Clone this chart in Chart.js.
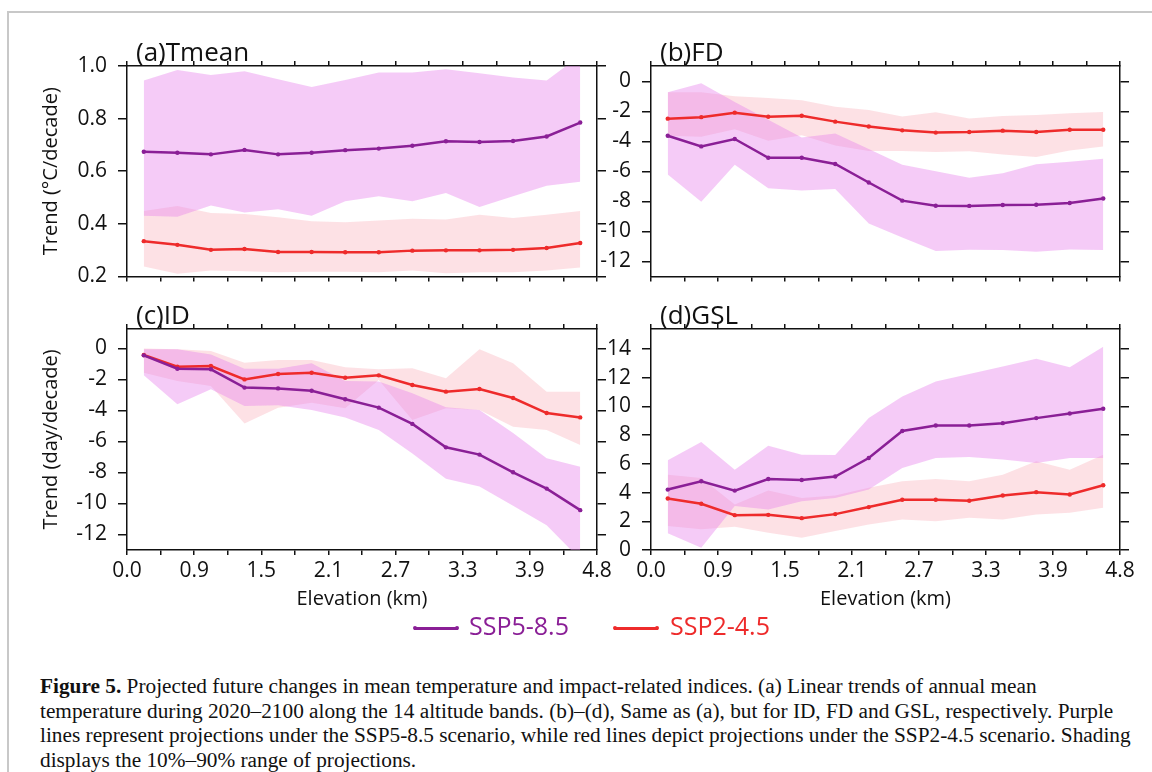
<!DOCTYPE html>
<html>
<head>
<meta charset="utf-8">
<script src="https://cdn.jsdelivr.net/npm/chart.js@4.4.1/dist/chart.umd.min.js"></script>
<style>
  body { margin: 0; width: 1152px; height: 772px; background: #fff; position: relative; overflow: hidden; font-family: "Open Sans", sans-serif; }
  .frame { position: absolute; left: 7px; top: 11px; right: -5px; bottom: -5px; border-left: 2px solid #c8c8c8; border-top: 2px solid #c8c8c8; }
  canvas { position: absolute; }
  .leg { position: absolute; font-size: 25px; line-height: 30px; white-space: nowrap; }
  .mark { position: absolute; height: 2.5px; width: 44px; }
  .mark::before, .mark::after { content: ""; position: absolute; top: -1px; width: 4px; height: 4px; border-radius: 2px; background: inherit; }
  .mark::before { left: -1px; }
  .mark::after { right: -1px; }
  #caption { position: absolute; left: 40px; top: 674px; font-family: "Liberation Serif", serif; font-size: 21.3px; line-height: 24.5px; color: #111; white-space: nowrap; }
</style>
</head>
<body>
<div class="frame"></div>
<canvas id="pa" width="590" height="270" style="left:30px; top:30px;"></canvas>
<canvas id="pb" width="562" height="270" style="left:590px; top:30px;"></canvas>
<canvas id="pc" width="590" height="311" style="left:30px; top:300px;"></canvas>
<canvas id="pd" width="562" height="311" style="left:590px; top:300px;"></canvas>

<div class="mark" style="left:414px; top:627px; background:#8a1f96;"></div>
<div class="leg" style="left:469px; top:610px; color:#8a1f96;">SSP5-8.5</div>
<div class="mark" style="left:614px; top:627px; background:#ee2b2b;"></div>
<div class="leg" style="left:670px; top:610px; color:#ee2b2b;">SSP2-4.5</div>

<div id="caption"><b>Figure 5.</b> Projected future changes in mean temperature and impact-related indices. (a) Linear trends of annual mean<br>temperature during 2020–2100 along the 14 altitude bands. (b)–(d), Same as (a), but for ID, FD and GSL, respectively. Purple<br>lines represent projections under the SSP5-8.5 scenario, while red lines depict projections under the SSP2-4.5 scenario. Shading<br>displays the 10%–90% range of projections.</div>

<script>
// x axis: 14 altitude bands, labels every second band edge
const xTickLabels = ['0.0', '0.9', '1.5', '2.1', '2.7', '3.3', '3.9', '4.8'];

// (a) Tmean, °C/decade
const tmean585   = [0.674, 0.670, 0.664, 0.681, 0.664, 0.670, 0.680, 0.686, 0.697, 0.714, 0.711, 0.715, 0.732, 0.785];
const tmean585Hi = [0.945, 0.985, 0.966, 0.980, 0.950, 0.920, 0.947, 0.975, 0.975, 0.988, 0.972, 0.956, 0.945, 1.040];
const tmean585Lo = [0.431, 0.427, 0.470, 0.443, 0.455, 0.431, 0.486, 0.505, 0.486, 0.517, 0.464, 0.505, 0.545, 0.560];
const tmean245   = [0.334, 0.320, 0.301, 0.304, 0.293, 0.293, 0.292, 0.292, 0.298, 0.299, 0.299, 0.301, 0.308, 0.327];
const tmean245Hi = [0.449, 0.468, 0.441, 0.437, 0.425, 0.410, 0.406, 0.413, 0.419, 0.416, 0.434, 0.422, 0.434, 0.449];
const tmean245Lo = [0.238, 0.210, 0.222, 0.220, 0.216, 0.218, 0.218, 0.216, 0.222, 0.212, 0.216, 0.216, 0.222, 0.234];

// (b) FD, day/decade
const fd585   = [-3.62, -4.33, -3.84, -5.09, -5.09, -5.50, -6.74, -7.95, -8.29, -8.30, -8.24, -8.22, -8.11, -7.81];
const fd585Hi = [-0.72, -0.12, -1.37, -2.55, -3.73, -3.47, -4.50, -5.56, -5.99, -6.42, -6.12, -5.52, -5.36, -5.15];
const fd585Lo = [-6.20, -8.03, -5.56, -7.13, -7.28, -7.17, -9.48, -10.40, -11.31, -11.22, -11.24, -11.35, -11.20, -11.24];
const fd245   = [-2.48, -2.38, -2.08, -2.35, -2.29, -2.68, -3.00, -3.26, -3.41, -3.37, -3.28, -3.37, -3.22, -3.22];
const fd245Hi = [-0.72, -0.72, -0.98, -1.11, -1.26, -1.69, -1.90, -2.33, -2.05, -2.47, -2.30, -2.23, -2.12, -2.04];
const fd245Lo = [-3.62, -3.68, -3.19, -3.95, -3.58, -4.27, -4.63, -4.63, -4.70, -4.66, -4.87, -5.04, -4.61, -4.33];

// (c) ID, day/decade
const id585   = [-0.45, -1.31, -1.35, -2.53, -2.58, -2.73, -3.28, -3.82, -4.87, -6.38, -6.85, -7.99, -9.04, -10.43];
const id585Hi = [-0.06, -0.06, -0.39, -1.31, -1.31, -0.96, -2.10, -2.14, -2.90, -3.80, -3.97, -5.46, -7.08, -7.63];
const id585Lo = [-1.74, -3.61, -2.64, -3.71, -3.67, -3.97, -4.45, -5.26, -6.77, -8.40, -8.91, -10.15, -11.40, -13.60];
const id245   = [-0.43, -1.18, -1.14, -2.00, -1.65, -1.57, -1.89, -1.74, -2.36, -2.79, -2.62, -3.20, -4.17, -4.45];
const id245Hi = [0.00, -0.06, -0.17, -0.92, -0.75, -0.75, -1.22, -1.35, -1.28, -1.93, -0.06, -0.96, -2.79, -2.79];
const id245Lo = [-1.57, -2.10, -2.43, -4.85, -3.82, -3.50, -3.86, -2.04, -4.62, -3.86, -3.97, -5.05, -5.26, -6.23];

// (d) GSL, day/decade
const gsl585   = [4.21, 4.79, 4.14, 4.95, 4.88, 5.12, 6.41, 8.29, 8.68, 8.68, 8.84, 9.19, 9.51, 9.84];
const gsl585Hi = [6.25, 7.52, 5.60, 7.27, 6.64, 6.62, 9.19, 10.69, 11.74, 12.27, 12.78, 13.33, 12.73, 14.17];
const gsl585Lo = [1.16, 0.16, 3.06, 2.82, 3.40, 3.63, 4.21, 5.72, 6.41, 6.48, 6.30, 6.06, 6.41, 6.41];
const gsl245   = [3.59, 3.22, 2.43, 2.45, 2.22, 2.50, 2.99, 3.50, 3.50, 3.43, 3.80, 4.03, 3.87, 4.51];
const gsl245Hi = [5.25, 5.02, 3.17, 4.14, 3.63, 3.80, 4.33, 4.79, 4.95, 4.79, 5.25, 6.18, 5.60, 6.64];
const gsl245Lo = [1.67, 1.44, 1.62, 1.20, 0.86, 1.32, 1.78, 2.13, 2.01, 2.25, 2.13, 2.48, 2.59, 2.94];

const purple = '#8a1f96';
const red = '#ee2b2b';
const purpleBand = 'rgba(230, 130, 235, 0.42)';
const redBand = 'rgba(250, 170, 180, 0.35)';
const ink = '#111';

Chart.defaults.font.family = '"Open Sans", sans-serif';
Chart.defaults.color = ink;

// each value sits in the middle of its band
const pts = arr => arr.map((v, i) => ({ x: i + 0.5, y: v }));

const panelLabel = {
  id: 'panelLabel',
  beforeDraw(chart, args, opts) {
    const { ctx, chartArea } = chart;
    ctx.save();
    ctx.font = '26px "Open Sans"';
    ctx.fillStyle = ink;
    ctx.textBaseline = 'alphabetic';
    ctx.fillText(opts.text, chartArea.left + 9, chartArea.top - 5);
    ctx.restore();
  }
};

function lineSet(data, color) {
  return {
    data: pts(data), borderColor: color, borderWidth: 2.5, tension: 0,
    pointRadius: 2.2, pointBackgroundColor: color, pointBorderWidth: 0, fill: false
  };
}
function bandSet(data, color, fill) {
  return {
    data: pts(data), borderColor: 'rgba(0,0,0,0)', borderWidth: 0, pointRadius: 0,
    backgroundColor: color, fill: fill, tension: 0
  };
}

function axisStyle(len) {
  return {
    grid: { drawOnChartArea: false, tickLength: len, color: ink, lineWidth: 1.5 },
    border: { color: ink, width: 1.5 }
  };
}

function makePanel(id, p) {
  new Chart(document.getElementById(id), {
    type: 'line',
    data: {
      datasets: [
        lineSet(p.s585, purple),
        lineSet(p.s245, red),
        bandSet(p.hi585, purpleBand, '+1'),
        bandSet(p.lo585, purpleBand, false),
        bandSet(p.hi245, redBand, '+1'),
        bandSet(p.lo245, redBand, false)
      ]
    },
    plugins: [panelLabel],
    options: {
      responsive: false,
      animation: false,
      layout: { padding: 0 },
      plugins: {
        legend: { display: false },
        tooltip: { enabled: false },
        panelLabel: { text: p.label }
      },
      scales: {
        x: {
          type: 'linear', position: 'bottom', min: 0, max: 14,
          afterFit: s => { s.height = p.bottom; },
          ...axisStyle(5),
          ticks: {
            display: p.xLabels, stepSize: 1, autoSkip: false, maxRotation: 0, minRotation: 0,
            padding: 3, font: { size: 21 },
            callback: v => (v % 2 === 0 ? xTickLabels[v / 2] : '')
          },
          title: { display: p.xLabels, text: 'Elevation (km)', font: { size: 20 }, padding: 0 }
        },
        xTop: {
          type: 'linear', position: 'top', min: 0, max: 14,
          afterFit: s => { s.height = p.top; },
          ...axisStyle(5),
          ticks: { display: false, stepSize: 1, autoSkip: false }
        },
        y: {
          type: 'linear', position: 'left', min: p.min, max: p.max,
          afterFit: s => { s.width = p.left; },
          ...axisStyle(9),
          ticks: { stepSize: p.step, includeBounds: false, autoSkip: false, padding: 11, font: { size: 21 }, callback: p.fmt },
          title: { display: !!p.yTitle, text: p.yTitle, font: { size: 20 }, padding: { top: 9, bottom: 0 } }
        },
        yRight: {
          type: 'linear', position: 'right', min: p.min, max: p.max,
          afterFit: s => { s.width = p.right; },
          ...axisStyle(9),
          ticks: { display: false, stepSize: p.step, includeBounds: false, autoSkip: false }
        }
      }
    }
  });
}

makePanel('pa', {
  label: '(a)Tmean', s585: tmean585, hi585: tmean585Hi, lo585: tmean585Lo,
  s245: tmean245, hi245: tmean245Hi, lo245: tmean245Lo,
  min: 0.2, max: 1.0, step: 0.2, fmt: v => v.toFixed(1), yTitle: 'Trend (°C/decade)',
  xLabels: false, left: 97, right: 23, top: 36, bottom: 17
});
makePanel('pb', {
  label: '(b)FD', s585: fd585, hi585: fd585Hi, lo585: fd585Lo,
  s245: fd245, hi245: fd245Hi, lo245: fd245Lo,
  min: -13, max: 1.03, step: 2, fmt: v => String(v), yTitle: '',
  xLabels: false, left: 61, right: 32, top: 36, bottom: 17
});
makePanel('pc', {
  label: '(c)ID', s585: id585, hi585: id585Hi, lo585: id585Lo,
  s245: id245, hi245: id245Hi, lo245: id245Lo,
  min: -13, max: 1.25, step: 2, fmt: v => String(v), yTitle: 'Trend (day/decade)',
  xLabels: true, left: 97, right: 23, top: 29, bottom: 61
});
makePanel('pd', {
  label: '(d)GSL', s585: gsl585, hi585: gsl585Hi, lo585: gsl585Lo,
  s245: gsl245, hi245: gsl245Hi, lo245: gsl245Lo,
  min: 0, max: 15.4, step: 2, fmt: v => String(v), yTitle: '',
  xLabels: true, left: 61, right: 32, top: 29, bottom: 61
});
</script>
</body>
</html>
